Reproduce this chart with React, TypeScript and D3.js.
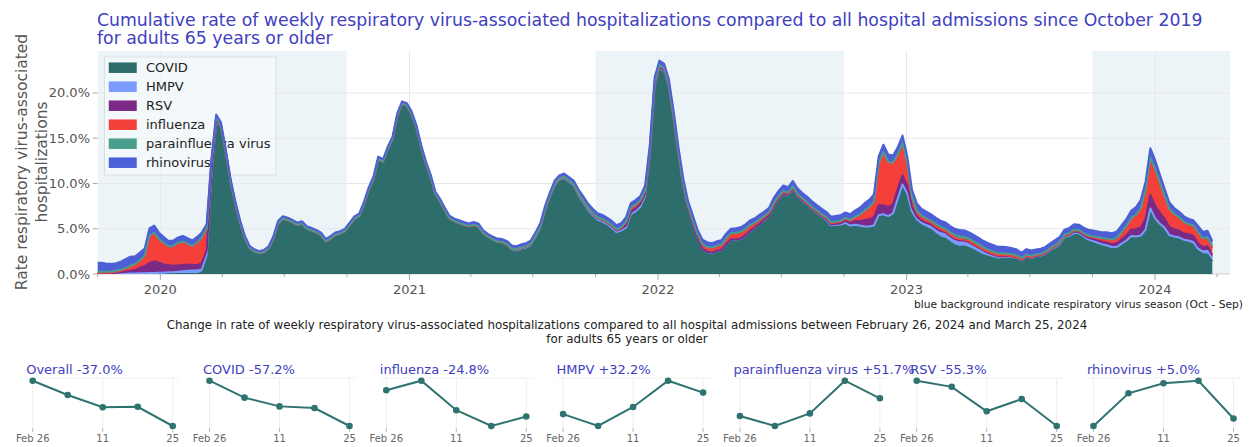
import React from "react";
import * as d3 from "d3";

const W = 1249;
const H = 447;
const FONT = "DejaVu Sans, Verdana, sans-serif";
const TITLE_COLOR = "#4040bf";

// weekly series, first week starting Monday 2019-09-30
const START_WEEK = "2019-09-30";

const SERIES = ["COVID", "HMPV", "RSV", "influenza", "parainfluenza virus", "rhinovirus"];
const COLORS = ["#2d6e6c", "#7b9bff", "#7b2a86", "#f43f3a", "#4a9d8d", "#4c5fd7"];

const covid = [
  0, 0, 0, 0, 0, 0, 0, 0, 0, 0,
  0, 0, 0, 0, 0, 0, 0, 0, 0, 0,
  0, 0, 0.1, 1.75, 10.6, 16.7, 16.3, 13.5, 10.3, 7.8,
  5.7, 4.0, 2.9, 2.5, 2.3, 2.4, 2.8, 3.9, 5.6, 6.1,
  5.95, 5.7, 5.4, 5.55, 5.0, 4.8, 4.6, 4.3, 3.6, 3.9,
  4.3, 4.45, 4.7, 5.4, 6.1, 6.4, 7.7, 9.3, 10.5, 12.7,
  12.4, 13.8, 14.9, 17.5, 18.8, 18.6, 17.7, 16.2, 14.0, 12.2,
  10.7, 8.8, 8.0, 7.0, 6.1, 5.8, 5.6, 5.4, 5.25, 5.4,
  5.25, 4.5, 4.1, 3.8, 3.55, 3.5, 3.2, 2.7, 2.6, 2.8,
  2.9, 3.2, 4.1, 5.1, 7.0, 8.5, 9.8, 10.4, 10.6, 10.2,
  9.8, 8.7, 7.9, 7.1, 6.5, 6.0, 5.8, 5.5, 5.1, 4.6,
  4.8, 5.1, 6.6, 6.9, 7.4, 8.6, 13.3, 20.8, 22.7, 22.4,
  20.7, 17.2, 13.2, 9.7, 7.2, 5.55, 3.9, 2.75, 2.4, 2.3,
  2.5, 2.6, 3.25, 3.75, 3.75, 3.85, 4.2, 4.7, 5.05, 5.5,
  5.95, 6.4, 7.45, 8.25, 8.85, 8.65, 9.35, 8.55, 8.05, 7.65,
  7.15, 6.75, 6.35, 5.95, 5.35, 5.4, 5.4, 5.6, 5.3, 5.4,
  5.3, 5.2, 5.2, 5.3, 6.4, 6.5, 6.3, 6.6, 8.2, 9.8,
  8.8, 6.8, 5.85, 5.35, 5.1, 4.85, 4.4, 4.05, 3.9, 3.5,
  3.15, 3.0, 3.05, 2.85, 2.6, 2.3, 2.05, 1.9, 1.75, 1.6,
  1.65, 1.65, 1.7, 1.55, 1.35, 1.75, 1.65, 1.85, 1.95, 2.15,
  2.55, 2.9, 3.25, 4.05, 4.15, 4.5, 4.45, 4.1, 3.75, 3.6,
  3.4, 3.2, 3.1, 2.9, 2.95, 3.3, 3.65, 4.15, 4.1, 4.2,
  4.8, 7.15, 6.05, 5.45, 5.0, 4.15, 4.0, 3.85, 3.6, 3.45,
  3.27, 2.57, 2.21, 2.14, 1.4,
];

const hmpv = [
  0.05, 0.05, 0.04, 0.04, 0.05, 0.05, 0.05, 0.06, 0.06, 0.07,
  0.08, 0.1, 0.1, 0.15, 0.15, 0.2, 0.2, 0.25, 0.3, 0.35,
  0.4, 0.4, 0.4, 0.35, 0.2, 0.1, 0.05, 0.03, 0.02, 0.02,
  0.02, 0.01, 0.01, 0.01, 0.01, 0.01, 0.01, 0.01, 0.01, 0.01,
  0.01, 0.01, 0.01, 0.01, 0.01, 0.01, 0.01, 0.01, 0.01, 0.01,
  0.01, 0.01, 0.01, 0.01, 0.01, 0.01, 0.01, 0.01, 0.01, 0.01,
  0.01, 0.01, 0.01, 0.01, 0.01, 0.01, 0.01, 0.01, 0.02, 0.02,
  0.02, 0.02, 0.02, 0.02, 0.02, 0.02, 0.02, 0.02, 0.02, 0.02,
  0.02, 0.02, 0.02, 0.02, 0.02, 0.02, 0.02, 0.02, 0.02, 0.02,
  0.02, 0.02, 0.02, 0.02, 0.02, 0.02, 0.02, 0.02, 0.02, 0.02,
  0.02, 0.02, 0.02, 0.02, 0.02, 0.02, 0.02, 0.02, 0.02, 0.02,
  0.02, 0.02, 0.02, 0.02, 0.02, 0.02, 0.02, 0.02, 0.03, 0.03,
  0.03, 0.03, 0.03, 0.03, 0.03, 0.03, 0.03, 0.03, 0.03, 0.03,
  0.03, 0.03, 0.03, 0.03, 0.03, 0.03, 0.03, 0.03, 0.03, 0.03,
  0.03, 0.03, 0.03, 0.03, 0.03, 0.03, 0.03, 0.03, 0.03, 0.03,
  0.03, 0.03, 0.03, 0.03, 0.03, 0.03, 0.03, 0.05, 0.05, 0.05,
  0.05, 0.05, 0.05, 0.05, 0.1, 0.1, 0.1, 0.1, 0.1, 0.1,
  0.1, 0.1, 0.2, 0.3, 0.35, 0.4, 0.5, 0.55, 0.6, 0.6,
  0.6, 0.6, 0.55, 0.55, 0.5, 0.5, 0.45, 0.4, 0.35, 0.3,
  0.3, 0.25, 0.2, 0.2, 0.15, 0.15, 0.1, 0.1, 0.1, 0.1,
  0.1, 0.05, 0.05, 0.05, 0.05, 0.05, 0.05, 0.05, 0.05, 0.05,
  0.05, 0.05, 0.05, 0.05, 0.05, 0.05, 0.05, 0.05, 0.05, 0.05,
  0.1, 0.1, 0.1, 0.1, 0.1, 0.15, 0.15, 0.2, 0.2, 0.25,
  0.27, 0.22, 0.3, 0.41, 0.36,
];

const rsv = [
  0.05, 0.05, 0.05, 0.05, 0.1, 0.15, 0.2, 0.3, 0.4, 0.6,
  0.8, 1.1, 1.3, 1.1, 0.9, 0.8, 0.7, 0.7, 0.7, 0.7,
  0.6, 0.6, 0.7, 0.5, 0.3, 0.15, 0.05, 0, 0, 0,
  0, 0, 0, 0, 0, 0, 0, 0, 0, 0,
  0, 0, 0, 0, 0, 0, 0, 0, 0, 0,
  0, 0, 0, 0, 0, 0, 0, 0, 0, 0,
  0, 0, 0, 0, 0, 0, 0, 0, 0, 0,
  0, 0, 0, 0, 0, 0, 0, 0, 0, 0,
  0, 0, 0, 0, 0, 0, 0.05, 0.06, 0.08, 0.08,
  0.1, 0.1, 0.1, 0.1, 0.1, 0.1, 0.1, 0.1, 0.1, 0.1,
  0.12, 0.12, 0.15, 0.15, 0.15, 0.15, 0.15, 0.15, 0.18, 0.18,
  0.2, 0.25, 0.25, 0.3, 0.3, 0.25, 0.2, 0.15, 0.1, 0.1,
  0.1, 0.1, 0.1, 0.1, 0.05, 0.03, 0.03, 0.03, 0.03, 0.03,
  0.03, 0.03, 0.03, 0.03, 0.03, 0.03, 0.03, 0.03, 0.03, 0.03,
  0.03, 0.03, 0.05, 0.05, 0.05, 0.05, 0.05, 0.05, 0.05, 0.05,
  0.05, 0.05, 0.05, 0.08, 0.1, 0.12, 0.15, 0.25, 0.3, 0.4,
  0.5, 0.7, 0.8, 0.9, 1.1, 1.0, 1.0, 1.0, 1.1, 1.0,
  0.9, 0.5, 0.3, 0.25, 0.2, 0.2, 0.15, 0.15, 0.1, 0.1,
  0.1, 0.1, 0.1, 0.1, 0.1, 0.1, 0.1, 0.05, 0.05, 0.05,
  0.05, 0.05, 0.05, 0.05, 0.05, 0.05, 0.05, 0.05, 0.05, 0.05,
  0.05, 0.1, 0.1, 0.1, 0.12, 0.15, 0.15, 0.15, 0.2, 0.2,
  0.25, 0.3, 0.3, 0.35, 0.4, 0.5, 0.6, 0.7, 0.8, 0.9,
  1.2, 1.5, 1.4, 1.2, 1.0, 0.9, 0.8, 0.75, 0.7, 0.7,
  0.67, 0.62, 0.42, 0.52, 0.3,
];

const influenza = [
  0.05, 0.05, 0.05, 0.08, 0.1, 0.15, 0.25, 0.4, 0.5, 0.7,
  1.0, 2.9, 3.0, 2.5, 2.3, 1.95, 2.1, 2.4, 2.5, 2.2,
  2.0, 2.4, 2.75, 2.3, 1.2, 0.3, 0.05, 0, 0, 0,
  0, 0, 0, 0, 0, 0, 0, 0, 0, 0,
  0, 0, 0, 0, 0, 0, 0, 0, 0, 0,
  0, 0, 0, 0, 0, 0, 0, 0, 0, 0,
  0, 0, 0, 0, 0, 0, 0, 0, 0, 0,
  0, 0, 0, 0, 0, 0, 0, 0, 0, 0,
  0, 0, 0, 0, 0, 0, 0, 0, 0, 0,
  0, 0, 0, 0, 0, 0, 0, 0, 0, 0,
  0, 0.02, 0.02, 0.03, 0.03, 0.04, 0.05, 0.05, 0.06, 0.08,
  0.1, 0.35, 0.4, 0.4, 0.35, 0.35, 0.3, 0.2, 0.2, 0.15,
  0.1, 0.1, 0.15, 0.2, 0.25, 0.3, 0.35, 0.4, 0.45, 0.45,
  0.45, 0.45, 0.5, 0.5, 0.5, 0.5, 0.45, 0.45, 0.4, 0.35,
  0.3, 0.25, 0.2, 0.15, 0.15, 0.15, 0.15, 0.12, 0.12, 0.1,
  0.1, 0.1, 0.1, 0.12, 0.15, 0.15, 0.2, 0.2, 0.25, 0.35,
  0.6, 0.95, 1.25, 1.65, 4.5, 5.8, 4.9, 4.5, 3.7, 3.5,
  2.3, 1.0, 0.5, 0.35, 0.3, 0.25, 0.2, 0.2, 0.15, 0.15,
  0.15, 0.15, 0.1, 0.1, 0.1, 0.1, 0.1, 0.1, 0.1, 0.1,
  0.1, 0.1, 0.05, 0.05, 0.05, 0.05, 0.05, 0.05, 0.05, 0.05,
  0.05, 0.05, 0.05, 0.05, 0.08, 0.1, 0.1, 0.12, 0.15, 0.2,
  0.25, 0.3, 0.35, 0.4, 0.5, 0.7, 0.9, 1.2, 1.5, 2.0,
  3.0, 4.0, 3.9, 3.2, 2.4, 1.9, 1.6, 1.4, 1.2, 1.0,
  1.04, 1.13, 0.85, 0.7, 0.79,
];

const parainfluenza = [
  0.1, 0.1, 0.1, 0.1, 0.1, 0.12, 0.15, 0.15, 0.15, 0.15,
  0.15, 0.15, 0.15, 0.12, 0.1, 0.1, 0.1, 0.1, 0.1, 0.1,
  0.1, 0.1, 0.1, 0.1, 0.05, 0.03, 0.02, 0.02, 0.02, 0.02,
  0.02, 0.02, 0.02, 0.02, 0.02, 0.02, 0.02, 0.02, 0.02, 0.02,
  0.02, 0.02, 0.02, 0.02, 0.02, 0.02, 0.02, 0.02, 0.02, 0.02,
  0.02, 0.02, 0.02, 0.02, 0.02, 0.02, 0.02, 0.02, 0.02, 0.02,
  0.02, 0.02, 0.02, 0.02, 0.02, 0.02, 0.02, 0.02, 0.02, 0.02,
  0.02, 0.02, 0.02, 0.02, 0.02, 0.02, 0.02, 0.02, 0.02, 0.02,
  0.02, 0.02, 0.02, 0.02, 0.02, 0.02, 0.03, 0.03, 0.03, 0.03,
  0.03, 0.03, 0.03, 0.03, 0.03, 0.03, 0.03, 0.03, 0.03, 0.03,
  0.03, 0.06, 0.06, 0.06, 0.06, 0.06, 0.06, 0.06, 0.06, 0.06,
  0.06, 0.06, 0.06, 0.06, 0.06, 0.06, 0.06, 0.06, 0.05, 0.05,
  0.05, 0.05, 0.05, 0.05, 0.05, 0.1, 0.1, 0.1, 0.1, 0.1,
  0.1, 0.12, 0.15, 0.2, 0.25, 0.25, 0.25, 0.2, 0.15, 0.12,
  0.1, 0.1, 0.1, 0.1, 0.1, 0.1, 0.1, 0.1, 0.1, 0.1,
  0.1, 0.1, 0.1, 0.1, 0.1, 0.1, 0.1, 0.1, 0.1, 0.1,
  0.1, 0.1, 0.1, 0.1, 0.1, 0.1, 0.1, 0.1, 0.1, 0.1,
  0.1, 0.1, 0.15, 0.2, 0.2, 0.2, 0.25, 0.25, 0.25, 0.25,
  0.3, 0.3, 0.3, 0.3, 0.3, 0.3, 0.25, 0.25, 0.25, 0.25,
  0.2, 0.2, 0.2, 0.2, 0.15, 0.15, 0.15, 0.1, 0.1, 0.1,
  0.1, 0.1, 0.1, 0.1, 0.1, 0.1, 0.1, 0.1, 0.1, 0.1,
  0.1, 0.1, 0.1, 0.1, 0.1, 0.1, 0.1, 0.1, 0.1, 0.15,
  0.15, 0.15, 0.15, 0.15, 0.1, 0.1, 0.1, 0.1, 0.1, 0.1,
  0.14, 0.1, 0.15, 0.28, 0.21,
];

const rhinovirus = [
  1.0, 1.0, 0.9, 0.85, 0.85, 0.9, 1.0, 1.0, 0.85, 0.85,
  0.8, 0.8, 0.8, 0.7, 0.65, 0.6, 0.6, 0.6, 0.6, 0.6,
  0.6, 0.6, 0.55, 0.5, 0.4, 0.35, 0.3, 0.25, 0.25, 0.24,
  0.22, 0.22, 0.2, 0.2, 0.2, 0.22, 0.22, 0.24, 0.25, 0.25,
  0.25, 0.25, 0.25, 0.25, 0.25, 0.25, 0.25, 0.25, 0.25, 0.25,
  0.25, 0.25, 0.25, 0.25, 0.25, 0.25, 0.25, 0.25, 0.25, 0.25,
  0.25, 0.25, 0.25, 0.25, 0.25, 0.25, 0.25, 0.25, 0.25, 0.25,
  0.25, 0.25, 0.25, 0.25, 0.27, 0.28, 0.3, 0.3, 0.3, 0.3,
  0.3, 0.3, 0.3, 0.3, 0.32, 0.32, 0.35, 0.35, 0.35, 0.35,
  0.35, 0.35, 0.35, 0.35, 0.35, 0.35, 0.35, 0.35, 0.35, 0.35,
  0.35, 0.45, 0.45, 0.45, 0.45, 0.45, 0.45, 0.45, 0.45, 0.45,
  0.45, 0.5, 0.5, 0.5, 0.5, 0.5, 0.5, 0.5, 0.5, 0.5,
  0.5, 0.5, 0.5, 0.5, 0.5, 0.5, 0.5, 0.5, 0.5, 0.5,
  0.5, 0.5, 0.5, 0.5, 0.5, 0.5, 0.5, 0.5, 0.5, 0.5,
  0.5, 0.5, 0.6, 0.6, 0.6, 0.6, 0.6, 0.6, 0.6, 0.6,
  0.6, 0.6, 0.6, 0.6, 0.6, 0.6, 0.6, 0.6, 0.6, 0.7,
  0.75, 0.8, 0.8, 0.8, 0.8, 0.8, 0.8, 0.8, 0.8, 0.8,
  0.8, 0.8, 0.8, 0.75, 0.75, 0.7, 0.7, 0.7, 0.7, 0.7,
  0.7, 0.7, 0.7, 0.7, 0.7, 0.7, 0.7, 0.7, 0.7, 0.7,
  0.7, 0.7, 0.65, 0.65, 0.6, 0.6, 0.6, 0.55, 0.55, 0.55,
  0.55, 0.55, 0.55, 0.55, 0.6, 0.6, 0.6, 0.6, 0.65, 0.65,
  0.65, 0.65, 0.7, 0.7, 0.7, 0.75, 0.8, 0.8, 0.85, 0.9,
  0.95, 1.0, 1.0, 0.9, 0.8, 0.7, 0.65, 0.6, 0.6, 0.6,
  0.55, 0.68, 0.72, 0.73, 0.58,
];

const Y_TICKS = [0, 5, 10, 15, 20];
const YEAR_TICKS = ["2020", "2021", "2022", "2023", "2024"];
const SEASONS = [
  ["2019-10-01", "2020-10-01"],
  ["2021-10-01", "2022-10-01"],
  ["2023-10-01", "2024-10-01"],
];

// small multiples (last five weeks)
const SPARK_NAMES = ["Overall", "COVID", "influenza", "HMPV", "parainfluenza virus", "RSV", "rhinovirus"];
const SPARK_CHANGE = [-37.0, -57.2, -24.8, 32.2, 51.7, -55.3, 5.0];
const SPARK_OVERALL = [5.48, 4.84, 4.29, 4.31, 3.45];
const SPARK_TICKS = [
  ["2024-02-26", "Feb 26"],
  ["2024-03-11", "11"],
  ["2024-03-25", "25"],
];

const utc = (s: string) => new Date(s + "T00:00:00Z");

export default function App() {
  const plot = { left: 97.7, right: 1230, top: 51, bottom: 274 };
  const x = d3.scaleUtc().domain([utc("2019-10-01"), utc("2024-04-20")]).range([plot.left, plot.right]);
  const y = d3.scaleLinear().domain([0, 24.64]).range([plot.bottom, plot.top]);

  const start = utc(START_WEEK);
  const dates = covid.map((_, i) => d3.utcDay.offset(start, 7 * i));
  const values = [covid, hmpv, rsv, influenza, parainfluenza, rhinovirus];
  const rows = dates.map((d, i) => {
    const r: any = { date: d };
    SERIES.forEach((s, k) => (r[s] = values[k][i]));
    return r;
  });
  const stacked = d3.stack<any>().keys(SERIES)(rows);
  const area = d3.area<any>().x((d) => x(d.data.date)).y0((d) => y(d[0])).y1((d) => y(d[1]));
  const line = d3.line<any>().x((d) => x(d.data.date)).y((d) => y(d[1]));

  const quarterTicks = d3.utcMonth.every(3)!.range(utc("2019-10-01"), utc("2024-04-20"));

  // sparkline layout
  const sparkSeries = [SPARK_OVERALL, covid, influenza, hmpv, parainfluenza, rsv, rhinovirus].map((s) => s.slice(-5));
  const sparkDates = dates.slice(-5);

  return (
    <svg width={W} height={H} style={{ position: "absolute", left: 0, top: 0, display: "block" }} fontFamily={FONT}>
      <defs>
        <clipPath id="plotclip">
          <rect x={plot.left} y={plot.top} width={plot.right - plot.left} height={plot.bottom - plot.top} />
        </clipPath>
      </defs>
      <rect width={W} height={H} fill="#fff" />

      {/* title */}
      <text x={97} y={25.5} fontSize={17.3} fill={TITLE_COLOR}>
        Cumulative rate of weekly respiratory virus-associated hospitalizations compared to all hospital admissions since October 2019
      </text>
      <text x={97} y={44} fontSize={17.3} fill={TITLE_COLOR}>for adults 65 years or older</text>

      {/* season shading */}
      <g clipPath="url(#plotclip)">
        {SEASONS.map(([a, b]) => (
          <rect key={a} x={x(utc(a))} y={plot.top} width={x(utc(b)) - x(utc(a))} height={plot.bottom - plot.top} fill="#edf4f8" />
        ))}
      </g>

      {/* grid */}
      {Y_TICKS.map((t) => (
        <line key={t} x1={plot.left} x2={plot.right} y1={y(t)} y2={y(t)} stroke={t === 0 ? "#d0d0d0" : "#e8e8e8"} />
      ))}
      {YEAR_TICKS.map((t) => (
        <line key={t} x1={x(utc(t + "-01-01"))} x2={x(utc(t + "-01-01"))} y1={plot.top} y2={plot.bottom} stroke="#e8e8e8" />
      ))}

      {/* legend (sits beneath the traces) */}
      <rect x={104.5} y={57} width={171.5} height={118} fill="rgba(255,255,255,0.35)" stroke="#dcdfe2" />
      {SERIES.map((s, k) => (
        <g key={s} transform={`translate(0,${67.7 + k * 19})`}>
          <rect x={109.5} y={-4.5} width={26.5} height={9} fill={COLORS[k]} stroke={COLORS[k]} strokeWidth={1.5} />
          <text x={146} y={4.7} fontSize={13} fill="#222">
            {s}
          </text>
        </g>
      ))}

      {/* stacked areas */}
      <g clipPath="url(#plotclip)">
        {stacked.map((s, k) => (
          <path key={s.key} d={area(s) || ""} fill={COLORS[k]} />
        ))}
        {stacked.map((s, k) => (
          <path key={s.key} d={line(s) || ""} fill="none" stroke={COLORS[k]} strokeWidth={2} strokeLinejoin="round" />
        ))}
      </g>

      {/* axes */}
      {Y_TICKS.map((t) => (
        <g key={t}>
          <line x1={plot.left - 5} x2={plot.left} y1={y(t)} y2={y(t)} stroke="#aaa" />
          <text x={90} y={y(t) + 4.5} fontSize={13} fill="#555" textAnchor="end">
            {t.toFixed(1)}%
          </text>
        </g>
      ))}
      {quarterTicks.map((d) => (
        <line key={+d} x1={x(d)} x2={x(d)} y1={plot.bottom} y2={plot.bottom + (d.getUTCMonth() === 0 ? 6 : 3)} stroke="#aaa" />
      ))}
      {YEAR_TICKS.map((t) => (
        <text key={t} x={x(utc(t + "-01-01"))} y={294} fontSize={13} fill="#555" textAnchor="middle">
          {t}
        </text>
      ))}
      <text transform="translate(27,162) rotate(-90)" fontSize={15.5} fill="#555" textAnchor="middle">
        Rate respiratory virus-associated
      </text>
      <text transform="translate(47,162) rotate(-90)" fontSize={15.5} fill="#555" textAnchor="middle">
        hospitalizations
      </text>

      <text x={1243} y={308} fontSize={10.7} fill="#222" textAnchor="end">
        blue background indicate respiratory virus season (Oct - Sep)
      </text>

      {/* small multiples */}
      <text x={627} y={329} fontSize={11.85} fill="#222" textAnchor="middle">
        Change in rate of weekly respiratory virus-associated hospitalizations compared to all hospital admissions between February 26, 2024 and March 25, 2024
      </text>
      <text x={627} y={343} fontSize={11.85} fill="#222" textAnchor="middle">for adults 65 years or older</text>

      {SPARK_NAMES.map((name, p) => {
        const x0 = 32.7 + 176.8 * p;
        const sx = d3.scaleUtc().domain([sparkDates[0], sparkDates[4]]).range([x0, x0 + 140]);
        const ext = d3.extent(sparkSeries[p]) as [number, number];
        const sy = d3.scaleLinear().domain(ext).range([426, 380.7]);
        const pts = sparkSeries[p].map((v, i) => [sx(sparkDates[i]), sy(v)] as [number, number]);
        const ch = SPARK_CHANGE[p];
        const label = `${name} ${ch >= 0 ? "+" : "-"}${Math.abs(ch).toFixed(1)}%`;
        return (
          <g key={name}>
            <line x1={x0 - 6} x2={x0 + 147} y1={378} y2={378} stroke="#f2f2f2" />
            {SPARK_TICKS.map(([d, t]) => (
              <g key={d}>
                <line x1={sx(utc(d))} x2={sx(utc(d))} y1={378} y2={428} stroke="#eeeeee" />
                <line x1={sx(utc(d))} x2={sx(utc(d))} y1={428} y2={432} stroke="#bbb" />
                <text x={sx(utc(d))} y={442} fontSize={10} fill="#666" textAnchor="middle">
                  {t}
                </text>
              </g>
            ))}
            <path d={d3.line()(pts) || ""} fill="none" stroke="#2f7370" strokeWidth={2} />
            {pts.map(([px, py], i) => (
              <circle key={i} cx={px} cy={py} r={3.3} fill="#2f7370" />
            ))}
            <text x={x0 - 6.5} y={374} fontSize={13} fill={TITLE_COLOR}>
              {label}
            </text>
          </g>
        );
      })}
    </svg>
  );
}
